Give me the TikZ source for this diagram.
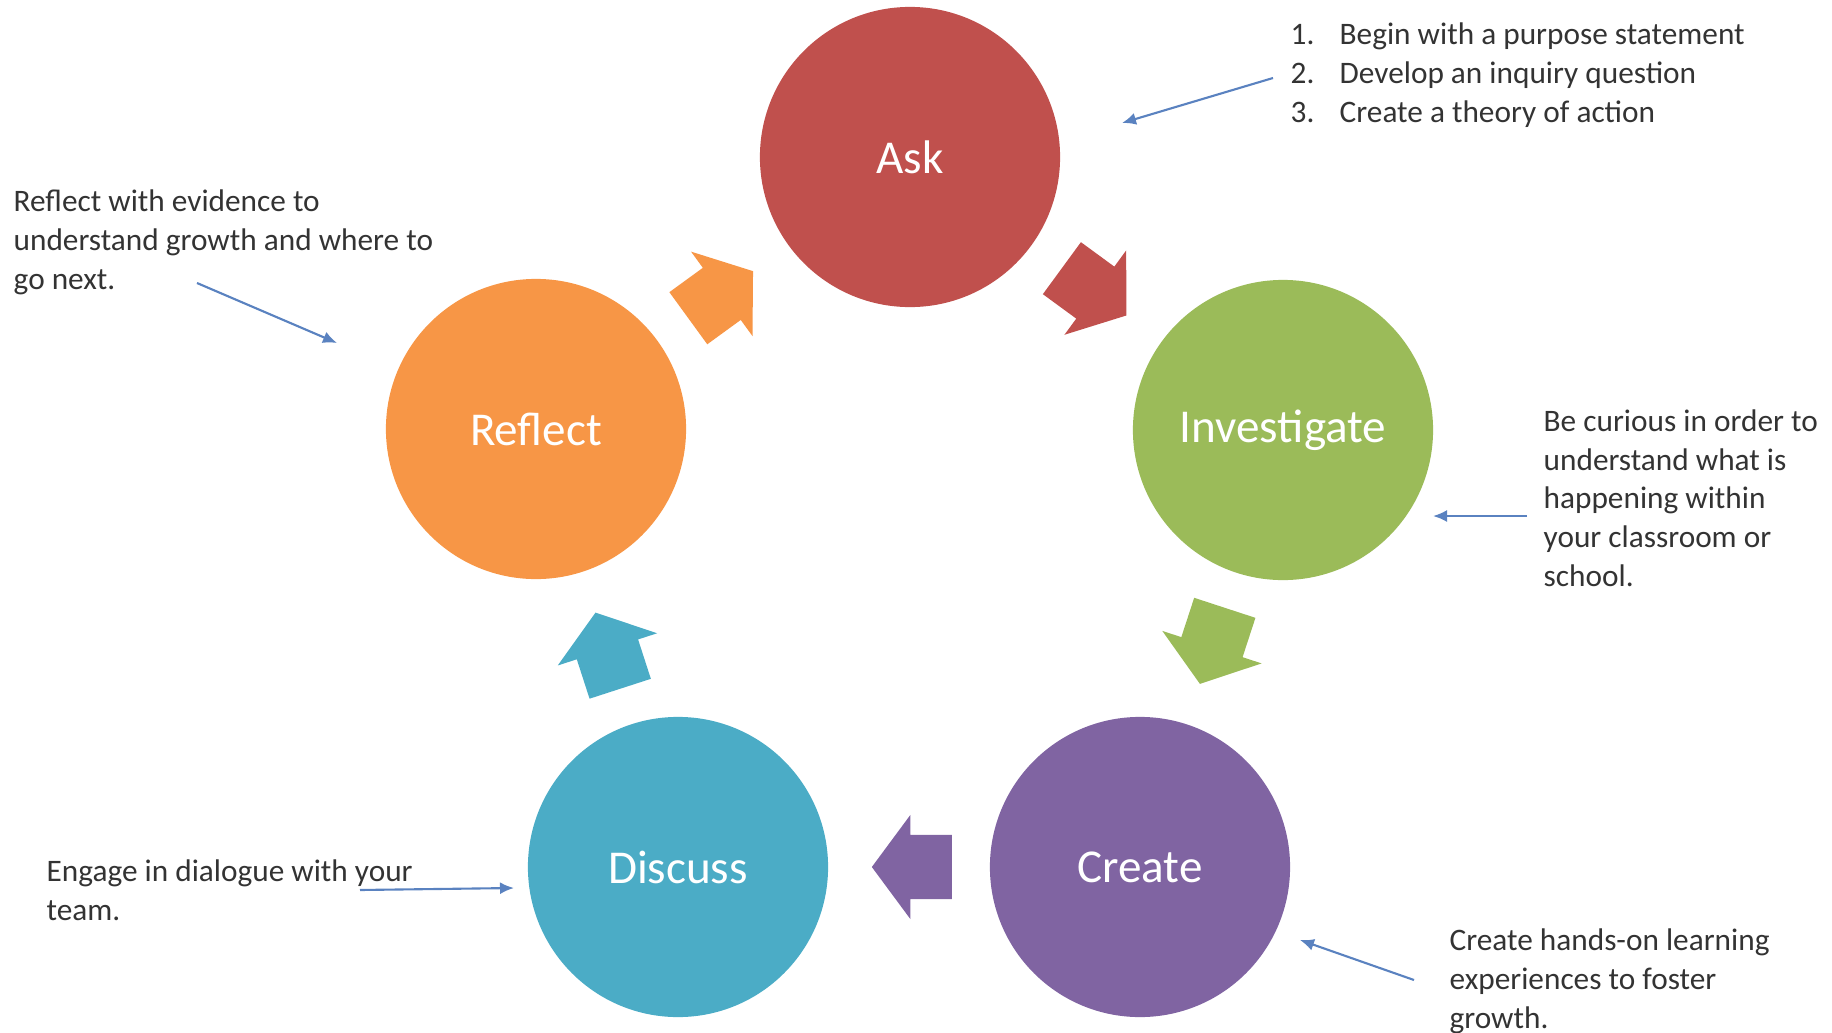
\documentclass[tikz,border=0pt]{standalone}
\usepackage{fontspec}
\setmainfont{Carlito}
\usetikzlibrary{arrows.meta}
\usetikzlibrary{shapes.arrows}
\usetikzlibrary{calc}
\definecolor{askred}{HTML}{C0504D}
\definecolor{invgreen}{HTML}{9BBB59}
\definecolor{crepurple}{HTML}{8064A2}
\definecolor{disblue}{HTML}{4BACC6}
\definecolor{refoorange}{HTML}{F79646}
\definecolor{pointblue}{HTML}{5A82C0}
\tikzset{phase/.style = {shape=circle, minimum size=3cm, inner sep=0pt, text=white,
    font=\fontsize{13.4}{16}\selectfont}}
\tikzset{note/.style = {anchor=base west, align=left, inner sep=0pt, text=black!80,
    font=\fontsize{8.9}{10.95}\selectfont}}
\tikzset{pointer/.style = {draw=pointblue, line width=0.6pt, -{Latex[length=1.4mm,width=1.2mm]}}}
\tikzset{turn/.style = {shape=single arrow, draw=none, minimum height=0.8cm,
    inner xsep=0pt, inner ysep=0.315cm, single arrow head extend=0.2cm,
    single arrow tip angle=107}}
% block arrow between two phases, pointing from #1 to #2
\newcommand{\turnarrow}[3]{%
  \path let \p1 = ($(#2)-(#1)$), \n1 = {atan2(\y1,\x1)} in
    node[turn, fill=#3, rotate=\n1] at ($(#1)!0.468!(#2)$) {};
}

\begin{document}
\begin{tikzpicture}[x=0.01cm, y=-0.01cm]
    \useasboundingbox (0,0) rectangle (1832,1033);

    \node[phase, fill=askred] (ask) at (910,157) {Ask};
    \node[phase, fill=invgreen] (inv) at (1283,430) {Investigate};
    \node[phase, fill=crepurple] (cre) at (1140,867) {Create};
    \node[phase, fill=disblue] (dis) at (678,867) {Discuss};
    \node[phase, fill=refoorange] (ref) at (536,429) {Reflect};

    \turnarrow{ask}{inv}{askred}
    \turnarrow{inv}{cre}{invgreen}
    \turnarrow{cre}{dis}{crepurple}
    \turnarrow{dis}{ref}{disblue}
    \turnarrow{ref}{ask}{refoorange}

    % notes, placed by the baseline of their last line
    \node[note] (asknote) at (1290,122)
        {\makebox[0.49cm][l]{1.}Begin with a purpose statement\\
         \makebox[0.49cm][l]{2.}Develop an inquiry question\\
         \makebox[0.49cm][l]{3.}Create a theory of action};
    \node[note] (refnote) at (13,289)
        {Reflect with evidence to\\understand growth and where to\\go next.};
    \node[note] (invnote) at (1543,586)
        {Be curious in order to\\understand what is\\happening within\\your classroom or\\school.};
    \node[note] (disnote) at (46,920) {Engage in dialogue with your\\team.};
    \node[note] (crenote) at (1449,1028)
        {Create hands-on learning\\experiences to foster\\growth.};

    \coordinate (askfrom) at (1273,78);
    \coordinate (askto) at (1122,123);
    \coordinate (reffrom) at (197,283);
    \coordinate (refto) at (337,343);
    \coordinate (invfrom) at (1527,516);
    \coordinate (invto) at (1433,516);
    \coordinate (disfrom) at (360,890);
    \coordinate (disto) at (514,888);
    \coordinate (crefrom) at (1414,980);
    \coordinate (creto) at (1300,940);

    \draw[pointer] (askfrom) -- (askto);
    \draw[pointer] (reffrom) -- (refto);
    \draw[pointer] (invfrom) -- (invto);
    \draw[pointer] (disfrom) -- (disto);
    \draw[pointer] (crefrom) -- (creto);
\end{tikzpicture}
\end{document}
